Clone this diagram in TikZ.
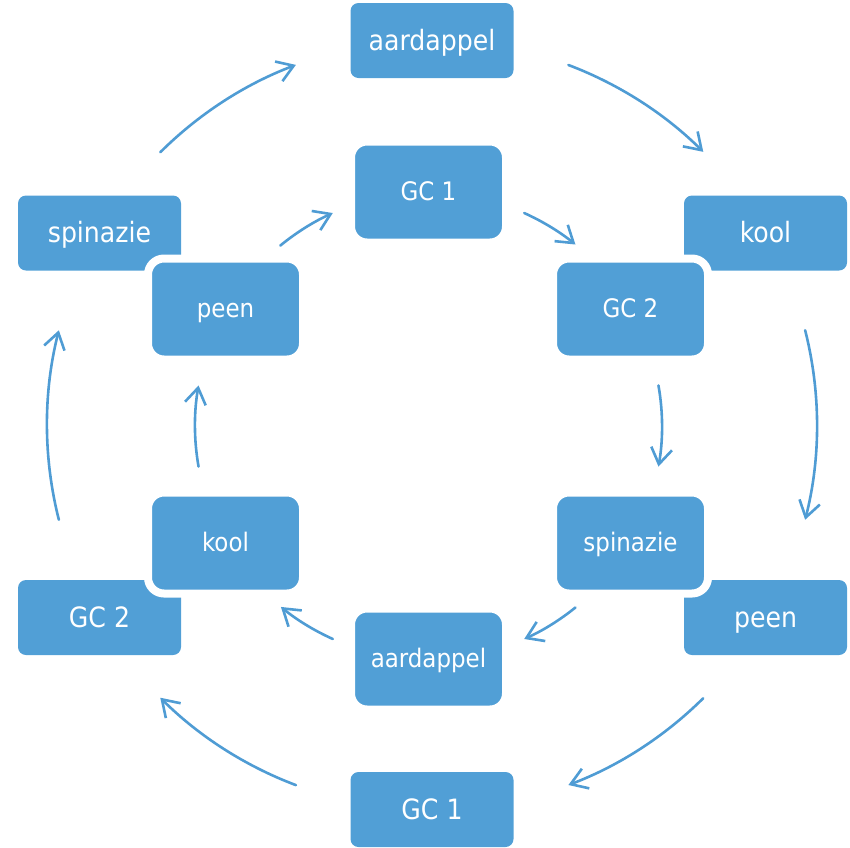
\documentclass[tikz,border=0pt]{standalone}
\usepackage{fontspec}
\setmainfont{DejaVu Sans Condensed}
\usetikzlibrary{arrows.meta}
\definecolor{boxblue}{RGB}{81,159,214}
\definecolor{arrowblue}{RGB}{79,156,212}
\begin{document}
\begin{tikzpicture}[x=1pt,y=-1pt,
  outerbox/.style={rectangle, rounded corners=8pt, fill=boxblue, minimum width=163pt, minimum height=75pt, inner sep=0pt, text=white, text height=22pt, text depth=3pt, font=\fontsize{28}{32}\selectfont},
  innerbox/.style={rectangle, rounded corners=16pt, fill=boxblue, draw=white, line width=8pt, minimum width=155pt, minimum height=101pt, inner sep=0pt, text=white, text height=19.5pt, text depth=2.9pt, font=\fontsize{25.5}{29}\selectfont},
  cyc/.style={draw=arrowblue, line width=2.6pt, line cap=round, -{Straight Barb[length=16pt,width=21pt]}}]
\useasboundingbox (0,0) rectangle (850,847);
% outer ring
\node[outerbox] (oA) at (432,40.5) {aardappel};
\node[outerbox] (oK) at (765.5,233) {kool};
\node[outerbox] (oP) at (765.5,617.5) {peen};
\node[outerbox] (oG1) at (432,809.5) {GC 1};
\node[outerbox] (oG2) at (99.5,617.5) {GC 2};
\node[outerbox] (oS) at (99.5,233) {spinazie};
% inner ring
\node[innerbox] (iG1) at (428.5,192) {GC 1};
\node[innerbox] (iG2) at (630.5,309) {GC 2};
\node[innerbox] (iS) at (630.5,543) {spinazie};
\node[innerbox] (iA) at (428.5,659) {aardappel};
\node[innerbox] (iK) at (225.5,543) {kool};
\node[innerbox] (iP) at (225.5,309) {peen};
% centres
\coordinate (oc) at (432,425);
\coordinate (ic) at (428.5,426);
% outer arrow start points
\path (oc) ++(-69.25:385) coordinate (o1s);
\path (oc) ++(-14.25:385) coordinate (o2s);
\path (oc) ++(45.2:385) coordinate (o3s);
\path (oc) ++(110.7:385) coordinate (o4s);
\path (oc) ++(165.75:385) coordinate (o5s);
\path (oc) ++(-134.9:385) coordinate (o6s);
% inner arrow start points
\path (ic) ++(-65.8:233.5) coordinate (i1s);
\path (ic) ++(-10:233.5) coordinate (i2s);
\path (ic) ++(51:233.5) coordinate (i3s);
\path (ic) ++(114.2:233.5) coordinate (i4s);
\path (ic) ++(170:233.5) coordinate (i5s);
\path (ic) ++(-129.4:233.5) coordinate (i6s);
% outer arrows
\draw[cyc] (o1s) arc[start angle=-69.25, end angle=-45.2, radius=385];
\draw[cyc] (o2s) arc[start angle=-14.25, end angle=14.25, radius=385];
\draw[cyc] (o3s) arc[start angle=45.2, end angle=69.25, radius=385];
\draw[cyc] (o4s) arc[start angle=110.7, end angle=134.9, radius=385];
\draw[cyc] (o5s) arc[start angle=165.75, end angle=194.25, radius=385];
\draw[cyc] (o6s) arc[start angle=-134.9, end angle=-110.7, radius=385];
% inner arrows
\draw[cyc] (i1s) arc[start angle=-65.8, end angle=-51, radius=233.5];
\draw[cyc] (i2s) arc[start angle=-10, end angle=10, radius=233.5];
\draw[cyc] (i3s) arc[start angle=51, end angle=65.8, radius=233.5];
\draw[cyc] (i4s) arc[start angle=114.2, end angle=129.2, radius=233.5];
\draw[cyc] (i5s) arc[start angle=170, end angle=190, radius=233.5];
\draw[cyc] (i6s) arc[start angle=-129.4, end angle=-114.2, radius=233.5];
\end{tikzpicture}
\end{document}
